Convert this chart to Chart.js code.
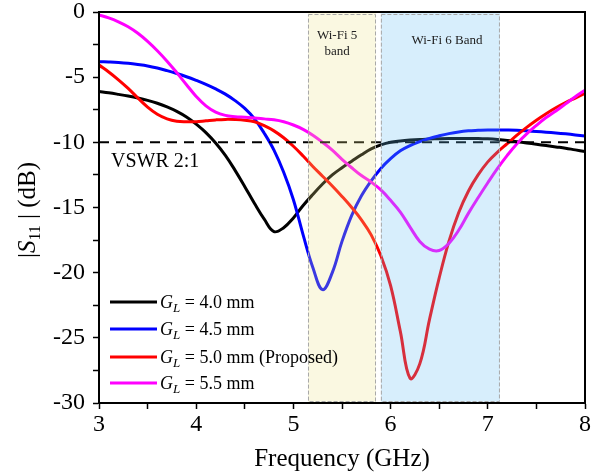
<!DOCTYPE html>
<html>
<head>
<meta charset="utf-8">
<script src="https://cdn.jsdelivr.net/npm/chart.js@4.4.1/dist/chart.umd.min.js"></script>
<style>
  html, body { margin: 0; padding: 0; background: #fff; }
  #wrap { width: 595px; height: 473px; }
</style>
</head>
<body>
<div id="wrap"><canvas id="c" width="595" height="473"></canvas></div>
<script>
// frequency grid (GHz)
const freq = [3.0, 3.1, 3.2, 3.3, 3.4, 3.5, 3.6, 3.7, 3.8, 3.9,
  4.0, 4.1, 4.2, 4.3, 4.4, 4.5, 4.6, 4.7, 4.8, 4.9,
  5.0, 5.1, 5.2, 5.3, 5.4, 5.5, 5.6, 5.7, 5.8, 5.9,
  6.0, 6.1, 6.2, 6.3, 6.4, 6.5, 6.6, 6.7, 6.8, 6.9,
  7.0, 7.1, 7.2, 7.3, 7.4, 7.5, 7.6, 7.7, 7.8, 7.9, 8.0];

// |S11| in dB
const gl40 = [-6.1, -6.2, -6.32, -6.45, -6.6, -6.78, -7.0, -7.28, -7.62, -8.05,
  -8.6, -9.25, -10.05, -11.0, -12.15, -13.4, -14.7, -15.9, -16.85, -16.55,
  -15.8, -14.85, -14.0, -13.2, -12.5, -11.95, -11.45, -10.95, -10.5, -10.2,
  -10.0, -9.9, -9.83, -9.78, -9.75, -9.72, -9.7, -9.7, -9.7, -9.7,
  -9.73, -9.78, -9.85, -9.95, -10.05, -10.15, -10.25, -10.35, -10.45, -10.58, -10.7];
const gl45 = [-3.81, -3.84, -3.88, -3.94, -4.03, -4.14, -4.3, -4.5, -4.72, -4.97,
  -5.25, -5.55, -5.9, -6.3, -6.8, -7.4, -8.2, -9.3, -10.6, -12.3,
  -14.4, -17.1, -19.6, -21.3, -20.0, -17.6, -15.6, -14.1, -12.95, -12.0,
  -11.25, -10.65, -10.25, -9.95, -9.7, -9.5, -9.33, -9.2, -9.12, -9.08,
  -9.05, -9.05, -9.06, -9.08, -9.12, -9.17, -9.22, -9.28, -9.35, -9.43, -9.52];
const gl50 = [-4.07, -4.6, -5.2, -5.86, -6.6, -7.3, -7.85, -8.2, -8.38, -8.42,
  -8.42, -8.35, -8.28, -8.24, -8.25, -8.3, -8.42, -8.72, -9.12, -9.65,
  -10.3, -11.05, -11.85, -12.6, -13.35, -14.15, -15.0, -15.95, -17.1, -18.7,
  -21.0, -24.5, -28.1, -27.0, -23.6, -20.4, -17.6, -15.4, -13.75, -12.5,
  -11.5, -10.75, -10.1, -9.45, -8.85, -8.3, -7.8, -7.35, -6.95, -6.6, -6.25];
const gl55 = [-0.23, -0.45, -0.75, -1.13, -1.63, -2.25, -2.97, -3.77, -4.65, -5.58,
  -6.48, -7.2, -7.68, -7.93, -8.03, -8.08, -8.13, -8.2, -8.27, -8.42,
  -8.67, -9.0, -9.45, -10.0, -10.6, -11.3, -11.95, -12.55, -13.05, -13.65,
  -14.45, -15.35, -16.5, -17.6, -18.2, -18.3, -17.75, -16.75, -15.45, -14.25,
  -13.1, -12.0, -11.0, -10.1, -9.35, -8.7, -8.1, -7.6, -7.05, -6.5, -6.0];

const vswrLevel = -10;
const wifi5 = [5.15, 5.85];
const wifi6 = [5.9, 7.125];

const legendText = [' = 4.0 mm', ' = 4.5 mm', ' = 5.0 mm (Proposed)', ' = 5.5 mm'];
const colors = ['#000000', '#0000ff', '#ff0000', '#ff00ff'];

const SERIF = '"Liberation Serif", "Times New Roman", serif';

const pts = arr => freq.map((f, i) => ({ x: f, y: arr[i] }));

// draw text made of several runs with their own font / vertical shift
function drawRuns(ctx, runs, x, y) {
  let cx = x;
  runs.forEach(r => {
    ctx.font = r.font;
    ctx.fillText(r.t, cx, y + (r.dy || 0));
    cx += ctx.measureText(r.t).width;
  });
  return cx - x;
}
function runsWidth(ctx, runs) {
  let w = 0;
  runs.forEach(r => { ctx.font = r.font; w += ctx.measureText(r.t).width; });
  return w;
}

const decor = {
  id: 'decor',
  afterDatasetsDraw(chart) {
    const { ctx, chartArea: a, scales: { x } } = chart;
    ctx.save();
    // semi-transparent bands laid over the curves
    const bands = [
      { r: wifi5, fill: 'rgba(235,227,136,0.25)' },
      { r: wifi6, fill: 'rgba(96,188,244,0.25)' }
    ];
    bands.forEach(b => {
      const x0 = x.getPixelForValue(b.r[0]);
      const x1 = x.getPixelForValue(b.r[1]);
      ctx.fillStyle = b.fill;
      ctx.fillRect(x0, a.top, x1 - x0, a.bottom - a.top);
      ctx.strokeStyle = '#a8a8a8';
      ctx.lineWidth = 1;
      ctx.setLineDash([4, 2]);
      ctx.strokeRect(x0 + 0.5, a.top + 2.5, x1 - x0 - 1, a.bottom - a.top - 4);
    });
    ctx.setLineDash([]);

    // band captions
    ctx.fillStyle = '#222';
    ctx.font = '13px ' + SERIF;
    ctx.textAlign = 'center';
    ctx.textBaseline = 'middle';
    const c5 = x.getPixelForValue(5.45);
    ctx.fillText('Wi-Fi 5', c5, 36);
    ctx.fillText('band', c5, 52);
    ctx.fillText('Wi-Fi 6 Band', x.getPixelForValue(6.58), 41);
    ctx.restore();
  },
  afterDraw(chart) {
    const { ctx, chartArea: a } = chart;
    ctx.save();
    // frame
    ctx.strokeStyle = '#000';
    ctx.lineWidth = 2;
    ctx.strokeRect(a.left, a.top, a.right - a.left, a.bottom - a.top);

    ctx.fillStyle = '#000';
    ctx.textAlign = 'left';
    ctx.textBaseline = 'alphabetic';

    // VSWR label
    ctx.font = '20px ' + SERIF;
    ctx.fillText('VSWR 2:1', 111, 167);

    // legend
    const rowY = [302, 329, 357, 383];
    rowY.forEach((yy, i) => {
      ctx.strokeStyle = colors[i];
      ctx.lineWidth = 3;
      ctx.beginPath();
      ctx.moveTo(110, yy);
      ctx.lineTo(157, yy);
      ctx.stroke();
      ctx.fillStyle = '#000';
      drawRuns(ctx, [
        { t: 'G', font: 'italic 18px ' + SERIF },
        { t: 'L', font: 'italic 13px ' + SERIF, dy: 4 },
        { t: legendText[i], font: '18px ' + SERIF }
      ], 160, yy + 6);
    });

    // x axis title
    ctx.font = '25px ' + SERIF;
    ctx.textAlign = 'center';
    ctx.fillText('Frequency (GHz)', (a.left + a.right) / 2, 466);

    // y axis title
    const yRuns = [
      { t: '|', font: '25px ' + SERIF },
      { t: 'S', font: 'italic 25px ' + SERIF },
      { t: '11', font: '16px ' + SERIF, dy: 5 },
      { t: ' | (dB)', font: '25px ' + SERIF }
    ];
    ctx.textAlign = 'left';
    const w = runsWidth(ctx, yRuns);
    ctx.translate(35, 210);
    ctx.rotate(-Math.PI / 2);
    drawRuns(ctx, yRuns, -w / 2, 0);
    ctx.restore();
  }
};

const lineSet = (arr, color, order) => ({
  data: pts(arr),
  borderColor: color,
  borderWidth: 3,
  pointRadius: 0,
  tension: 0.4,
  fill: false,
  order: order
});

new Chart(document.getElementById('c').getContext('2d'), {
  type: 'line',
  data: {
    datasets: [
      {
        data: [{ x: freq[0], y: vswrLevel }, { x: freq[freq.length - 1], y: vswrLevel }],
        borderColor: '#000',
        borderWidth: 2,
        borderDash: [10, 7],
        pointRadius: 0,
        fill: false,
        order: 0
      },
      lineSet(gl55, colors[3], 1),
      lineSet(gl50, colors[2], 2),
      lineSet(gl45, colors[1], 3),
      lineSet(gl40, colors[0], 4)
    ]
  },
  options: {
    responsive: false,
    animation: false,
    layout: { padding: { top: 12, right: 10, left: 0, bottom: 0 } },
    plugins: { legend: { display: false }, tooltip: { enabled: false } },
    scales: {
      x: {
        type: 'linear',
        min: 3,
        max: 8,
        afterFit: s => { s.height = 70; s.paddingLeft = 0; s.paddingRight = 0; },
        border: { display: true, color: '#000', width: 2 },
        grid: { drawOnChartArea: false, drawTicks: true, tickLength: 6, tickColor: '#000', tickWidth: 1.5 },
        ticks: {
          stepSize: 0.5,
          color: '#000',
          padding: 4,
          maxRotation: 0,
          autoSkip: false,
          font: { family: SERIF, size: 24, lineHeight: 1 },
          callback: v => (Number.isInteger(v) ? v : '')
        }
      },
      y: {
        min: -30,
        max: 0,
        afterFit: s => { s.width = 99; s.paddingTop = 0; s.paddingBottom = 0; },
        border: { display: true, color: '#000', width: 2 },
        grid: { drawOnChartArea: false, drawTicks: true, tickLength: 6, tickColor: '#000', tickWidth: 1.5 },
        ticks: {
          stepSize: 2.5,
          color: '#000',
          padding: 8,
          autoSkip: false,
          font: { family: SERIF, size: 24, lineHeight: 1 },
          callback: v => (v % 5 === 0 ? v : '')
        }
      }
    }
  },
  plugins: [decor]
});
</script>
</body>
</html>
